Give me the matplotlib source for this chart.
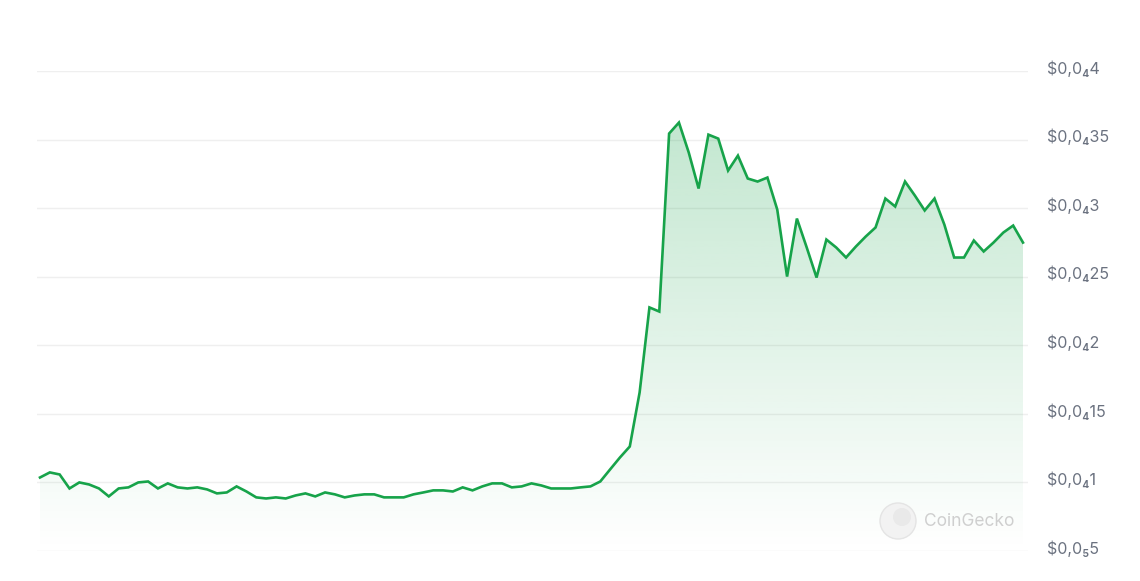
import numpy as np
import matplotlib
matplotlib.use("Agg")
import matplotlib.pyplot as plt
from matplotlib.patches import Ellipse
from matplotlib.transforms import ScaledTranslation

# Price values in units of 1e-5 USD (one point per time step)
prices_e5 = [
    1.036, 1.073, 1.058, 0.956, 1.000, 0.985, 0.956, 0.898, 0.956, 0.964,
    1.000, 1.007, 0.956, 0.993, 0.964, 0.956, 0.964, 0.949, 0.920, 0.927,
    0.971, 0.934, 0.891, 0.883, 0.891, 0.883, 0.905, 0.920, 0.898, 0.927,
    0.913, 0.891, 0.905, 0.913, 0.913, 0.891, 0.891, 0.891, 0.913, 0.927,
    0.942, 0.942, 0.934, 0.964, 0.942, 0.971, 0.993, 0.993, 0.964, 0.971,
    0.993, 0.978, 0.956, 0.956, 0.956, 0.964, 0.971, 1.007, 1.095, 1.182,
    1.262, 1.656, 2.276, 2.246, 3.544, 3.624, 3.405, 3.143, 3.536, 3.507,
    3.274, 3.383, 3.216, 3.194, 3.223, 2.990, 2.501, 2.924, 2.713, 2.494,
    2.771, 2.713, 2.640, 2.720, 2.793, 2.859, 3.070, 3.012, 3.194, 3.092,
    2.983, 3.070, 2.880, 2.640, 2.640, 2.764, 2.684, 2.749, 2.822, 2.873,
    2.749,
]
tick_values_e5 = [0.5, 1.0, 1.5, 2.0, 2.5, 3.0, 3.5, 4.0]
tick_labels = ["$0,0\u20855", "$0,0\u20841", "$0,0\u208415", "$0,0\u20842",
               "$0,0\u208425", "$0,0\u20843", "$0,0\u208435", "$0,0\u20844"]

prices = np.array(prices_e5) * 1e-5
ticks = np.array(tick_values_e5) * 1e-5
x = np.arange(len(prices))

GREEN = "#17a34a"
W, H = 1140, 581
fig = plt.figure(figsize=(W / 100, H / 100), dpi=100)
fig.patch.set_facecolor("white")

left, right_px = 37, 1028
top_px, bot_px = 71, 551
ax = fig.add_axes([left / W, 1 - bot_px / H, (right_px - left) / W, (bot_px - top_px) / H])
ax.set_facecolor("white")

ymin, ymax = ticks[0], ticks[-1]
ax.set_ylim(ymin, ymax)

# grid
for t in ticks:
    ax.axhline(t, color="#efefef", lw=1.0, zorder=0)

# gradient fill under the line
poly = ax.fill_between(x, prices, ymin, color="none", lw=0)
path = poly.get_paths()[0]
top = prices.max()
n = 256
alphas = np.linspace(0.0, 0.26, n)[:, None]
rgba = np.zeros((n, 1, 4))
rgb = matplotlib.colors.to_rgb(GREEN)
rgba[..., 0], rgba[..., 1], rgba[..., 2] = rgb
rgba[..., 3] = alphas
im = ax.imshow(rgba, extent=[x[0], x[-1], ymin, top], origin="lower",
               aspect="auto", zorder=1, interpolation="bilinear")
im.set_clip_path(path, transform=ax.transData)

ax.plot(x, prices, color=GREEN, lw=1.9, zorder=3, solid_joinstyle="miter")

# axis styling
for s in ax.spines.values():
    s.set_visible(False)
ax.set_xticks([])
ax.yaxis.tick_right()
ax.set_yticks(ticks)
ax.set_yticklabels(tick_labels)
ax.tick_params(axis="y", length=0, pad=14, labelsize=11.5, labelcolor="#6b7280")
offset = ScaledTranslation(0, 4 / 100, fig.dpi_scale_trans)
for lab in ax.get_yticklabels():
    lab.set_fontfamily(["Inter", "DejaVu Sans"])
    lab.set_transform(lab.get_transform() + offset)
ax.set_xlim(-0.305, 100.51)

# watermark
fig.patches.append(Ellipse((898 / W, 1 - 521 / H), 36 / W, 36 / H, transform=fig.transFigure,
                           facecolor="#f2f2f2", edgecolor="#e4e4e4", lw=1.0, zorder=5))
fig.patches.append(Ellipse((902 / W, 1 - 517 / H), 18 / W, 18 / H, transform=fig.transFigure,
                           facecolor="#e9e9e9", edgecolor="none", zorder=6))
fig.text(924 / W, 1 - 521 / H, "CoinGecko", fontsize=12.5, color="#cfcfcf",
         va="center", ha="left", family=["Inter", "DejaVu Sans"], zorder=7)

fig.savefig("out.png", dpi=100, facecolor="white")
